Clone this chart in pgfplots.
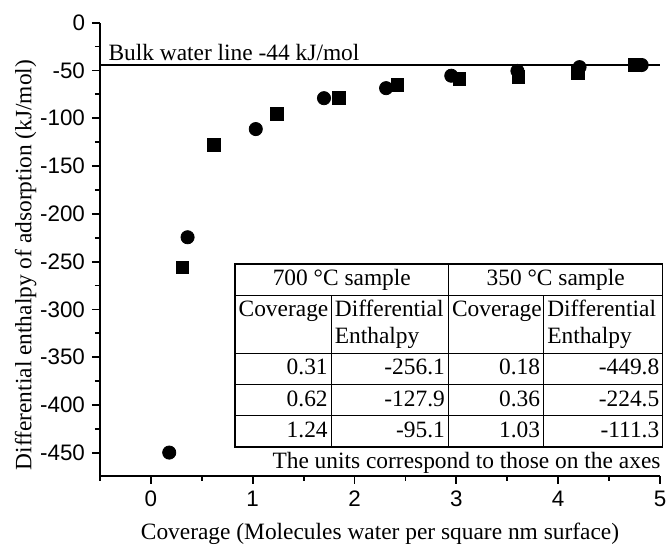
\documentclass[border=0pt]{standalone}
\usepackage{pgfplots}
\pgfplotsset{compat=1.18}
\usepackage{array}
\usepackage{fontspec}
\setmainfont{Liberation Serif}
\newfontfamily\arial{Liberation Sans}

% 700 C sample (squares) and 350 C sample (circles)
\pgfplotstableread{
x y
0.31 -256.1
0.62 -127.9
1.24 -95.1
1.85 -78.5
2.42 -65.5
3.03 -59
3.61 -57
4.19 -52.5
4.75 -43.8
}\sevenhundred
\pgfplotstableread{
x y
0.18 -449.8
0.36 -224.5
1.03 -111.3
1.70 -79
2.31 -68.5
2.95 -55.5
3.60 -50.5
4.21 -46.5
4.82 -44.3
}\threefifty

\newcommand{\txt}{\fontsize{11.7bp}{13.5bp}\selectfont}

\begin{document}
\begin{tikzpicture}
\begin{axis}[
  name=ax,
  scale only axis,
  width=280bp, height=226.5bp,
  xmin=-0.5, xmax=5,
  ymin=-474, ymax=0,
  axis x line*=bottom,
  axis y line*=left,
  xtick={0,1,2,3,4,5},
  ytick={-450,-400,-350,-300,-250,-200,-150,-100,-50,0},
  minor xtick={-0.5,0.5,1.5,2.5,3.5,4.5},
  minor ytick={-425,-375,-325,-275,-225,-175,-125,-75,-25},
  tick align=outside,
  major tick length=4bp,
  minor tick length=2.5bp,
  axis line style={line width=0.9bp, -},
  every tick/.style={line width=0.9bp, black},
  /pgf/number format/assume math mode=true,
  tick label style={font=\arial\fontsize{11.2bp}{13bp}\selectfont},
  label style={font=\txt},
  xlabel={Coverage (Molecules water per square nm surface)},
  ylabel={Differential enthalpy of adsorption (kJ/mol)},
  xlabel style={yshift=-1.5bp},
  ylabel style={at={(ticklabel cs:0.465)}, yshift=-5bp},
  clip=false,
]
\addplot[black, line width=0.8bp] coordinates {(-0.5,-44) (5,-44)};
\addplot[only marks, mark=square*, mark size=3.2bp, black] table[x=x,y=y] {\sevenhundred};
\addplot[only marks, mark=*, mark size=3.3bp, black] table[x=x,y=y] {\threefifty};
\node[anchor=base west, font=\txt, inner sep=0] at (axis cs:-0.42,-40) {Bulk water line -44 kJ/mol};
\node[anchor=north west, inner sep=0, font=\txt] at (axis cs:0.817,-251.5) {%
  \setlength{\tabcolsep}{1.5bp}\setlength{\arrayrulewidth}{0.6bp}%
  \renewcommand{\arraystretch}{1.11}%
  \begin{tabular}{|>{\raggedleft\arraybackslash}p{44.5bp}|>{\raggedleft\arraybackslash}p{55bp}|>{\raggedleft\arraybackslash}p{44bp}|>{\raggedleft\arraybackslash}p{56bp}|}
  \hline
  \multicolumn{2}{|c|}{700 °C sample} & \multicolumn{2}{c|}{350 °C sample}\\
  \hline
  \multicolumn{1}{|p{44.5bp}|}{Coverage} & \multicolumn{1}{p{55bp}|}{Differential\newline Enthalpy} &
  \multicolumn{1}{p{44bp}|}{Coverage} & \multicolumn{1}{p{56bp}|}{Differential\newline Enthalpy}\\
  \hline
  0.31 & -256.1 & 0.18 & -449.8\\
  \hline
  0.62 & -127.9 & 0.36 & -224.5\\
  \hline
  1.24 & -95.1 & 1.03 & -111.3\\
  \hline
  \multicolumn{4}{r}{The units correspond to those on the axes}\\
  \end{tabular}};
\end{axis}
\pgfresetboundingbox
\path[use as bounding box] (ax.south west) ++(-50bp,-36.15bp) rectangle ++(333bp,274bp);
\end{tikzpicture}
\end{document}
